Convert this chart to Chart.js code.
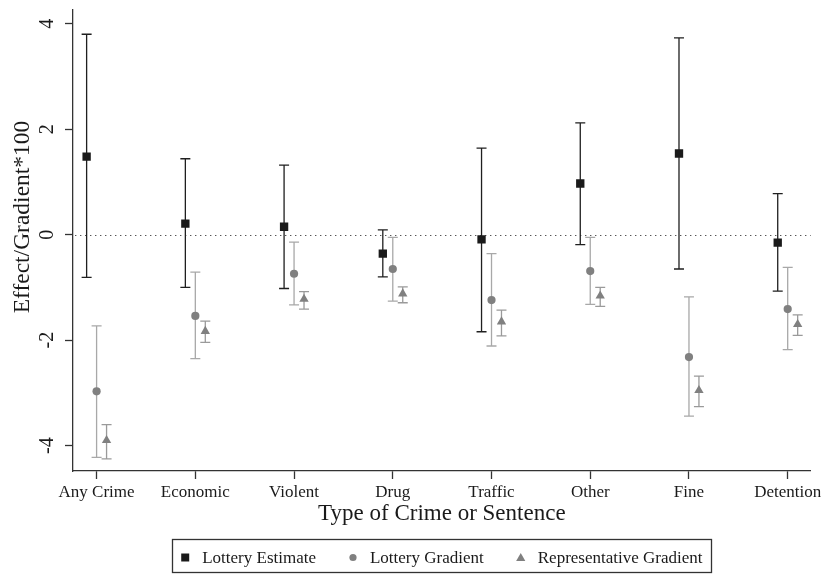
<!DOCTYPE html>
<html>
<head>
<meta charset="utf-8">
<script src="https://cdn.jsdelivr.net/npm/chart.js@4.4.1/dist/chart.umd.min.js"></script>
<style>
  html, body { margin: 0; padding: 0; background: #fff; }
  canvas { display: block; }
</style>
</head>
<body>
<canvas id="grafico" width="822" height="574"></canvas>
<script>
// Datos (efecto/gradiente * 100)
const categorias = ["Any Crime", "Economic", "Violent", "Drug", "Traffic", "Other", "Fine", "Detention"];
const yTicks = [-4, -2, 0, 2, 4];

const lotteryEstimate   = [1.48, 0.21, 0.15, -0.36, -0.09, 0.97, 1.54, -0.15];
const lotteryEstimateLo = [-0.81, -1.00, -1.02, -0.80, -1.84, -0.19, -0.65, -1.07];
const lotteryEstimateHi = [3.80, 1.44, 1.32, 0.09, 1.64, 2.12, 3.73, 0.78];

const lotteryGradient   = [-2.97, -1.54, -0.74, -0.65, -1.24, -0.69, -2.32, -1.41];
const lotteryGradientLo = [-4.22, -2.35, -1.33, -1.26, -2.11, -1.32, -3.44, -2.18];
const lotteryGradientHi = [-1.73, -0.71, -0.14, -0.05, -0.36, -0.05, -1.18, -0.62];

const repGradient   = [-3.90, -1.83, -1.22, -1.12, -1.65, -1.16, -2.95, -1.70];
const repGradientLo = [-4.25, -2.04, -1.41, -1.29, -1.92, -1.36, -3.26, -1.91];
const repGradientHi = [-3.60, -1.64, -1.08, -0.99, -1.43, -1.00, -2.68, -1.52];

const tituloY = "Effect/Gradient*100";
const tituloX = "Type of Crime or Sentence";

const FUENTE = "'Liberation Serif', 'DejaVu Serif', serif";
const TINTA = "#1a1a1a";
const DESPLAZ = 0.101; // separación horizontal entre series

// Construir los puntos de una serie con su intervalo
function puntos(valores, bajos, altos, desplazamiento) {
    return categorias.map((c, i) => ({ x: i + desplazamiento, y: valores[i], lo: bajos[i], hi: altos[i] }));
}

// Dibujar un marcador simple (leyenda)
function marcador(ctx, estilo, x, y, color) {
    ctx.fillStyle = color;
    ctx.beginPath();
    if (estilo === "rect") {
        ctx.rect(x - 4, y - 4, 8, 8);
    } else if (estilo === "circle") {
        ctx.arc(x, y, 3.6, 0, Math.PI * 2);
    } else {
        ctx.moveTo(x, y - 4.5);
        ctx.lineTo(x + 4.6, y + 3.6);
        ctx.lineTo(x - 4.6, y + 3.6);
        ctx.closePath();
    }
    ctx.fill();
}

const barrasError = {
    id: "barrasError",
    beforeDatasetsDraw(chart) {
        const ctx = chart.ctx;
        const x = chart.scales.x, y = chart.scales.y;
        const area = chart.chartArea;
        ctx.save();
        // línea punteada en cero
        const y0 = Math.round(y.getPixelForValue(0)) + 0.5;
        ctx.setLineDash([1.4, 3.6]);
        ctx.strokeStyle = "#555";
        ctx.lineWidth = 1;
        ctx.beginPath();
        ctx.moveTo(area.left + 2, y0);
        ctx.lineTo(area.right, y0);
        ctx.stroke();
        ctx.setLineDash([]);
        // barras de error
        chart.data.datasets.forEach(ds => {
            ctx.strokeStyle = ds.errColor;
            ctx.lineWidth = 1.3;
            ds.data.forEach(p => {
                const px = x.getPixelForValue(p.x);
                const pLo = y.getPixelForValue(p.lo);
                const pHi = y.getPixelForValue(p.hi);
                ctx.beginPath();
                ctx.moveTo(px, pLo); ctx.lineTo(px, pHi);
                ctx.moveTo(px - 5, pLo); ctx.lineTo(px + 5, pLo);
                ctx.moveTo(px - 5, pHi); ctx.lineTo(px + 5, pHi);
                ctx.stroke();
            });
        });
        ctx.restore();
    },
    afterDraw(chart) {
        const ctx = chart.ctx;
        const y = chart.scales.y;
        const area = chart.chartArea;
        ctx.save();
        // etiquetas del eje Y giradas
        ctx.fillStyle = TINTA;
        ctx.font = "20px " + FUENTE;
        ctx.textAlign = "center";
        ctx.textBaseline = "alphabetic";
        yTicks.forEach(v => {
            ctx.save();
            ctx.translate(53, y.getPixelForValue(v));
            ctx.rotate(-Math.PI / 2);
            ctx.fillText(String(v), 0, 0);
            ctx.restore();
        });

        // título del eje Y
        ctx.save();
        ctx.font = "23.5px " + FUENTE;
        ctx.textBaseline = "middle";
        ctx.translate(22.5, 217);
        ctx.rotate(-Math.PI / 2);
        ctx.fillText(tituloY, 0, 0);
        ctx.restore();

        // leyenda con recuadro
        ctx.font = "17px " + FUENTE;
        const items = chart.data.datasets.map(ds => ({
            texto: ds.label, estilo: ds.pointStyle, color: ds.backgroundColor,
            ancho: ctx.measureText(ds.label).width
        }));
        const gapTexto = 13, gapItem = 33, anchoMarca = 8;
        let total = 0;
        items.forEach((it, i) => { total += anchoMarca + gapTexto + it.ancho + (i ? gapItem : 0); });
        const centro = (area.left + area.right) / 2;
        const cajaAncho = total + 18;
        const cajaIzq = centro - cajaAncho / 2;
        const cajaTop = 539.5, cajaBottom = 572.5;
        ctx.strokeStyle = "#333";
        ctx.lineWidth = 1.3;
        ctx.strokeRect(Math.round(cajaIzq) + 0.5, cajaTop, Math.round(cajaAncho), cajaBottom - cajaTop);

        let cx = cajaIzq + 9;
        const base = 563;
        items.forEach(it => {
            marcador(ctx, it.estilo, cx + anchoMarca / 2, 557.5, it.color);
            cx += anchoMarca + gapTexto;
            ctx.fillStyle = TINTA;
            ctx.textAlign = "left";
            ctx.fillText(it.texto, cx, base);
            cx += it.ancho + gapItem;
        });
        ctx.restore();
    }
};

new Chart(document.getElementById("grafico").getContext("2d"), {
    type: "scatter",
    data: {
        datasets: [{
            label: "Lottery Estimate",
            data: puntos(lotteryEstimate, lotteryEstimateLo, lotteryEstimateHi, -DESPLAZ),
            pointStyle: "rect",
            pointRadius: 5.9,
            pointHoverRadius: 5.9,
            borderWidth: 0,
            backgroundColor: TINTA,
            borderColor: TINTA,
            errColor: "#1f1f1f"
        }, {
            label: "Lottery Gradient",
            data: puntos(lotteryGradient, lotteryGradientLo, lotteryGradientHi, 0),
            pointStyle: "circle",
            pointRadius: 4.1,
            pointHoverRadius: 4.1,
            borderWidth: 0,
            backgroundColor: "#808080",
            borderColor: "#808080",
            errColor: "#a8a8a8"
        }, {
            label: "Representative Gradient",
            data: puntos(repGradient, repGradientLo, repGradientHi, DESPLAZ),
            pointStyle: "triangle",
            pointRadius: 5.4,
            pointHoverRadius: 5.4,
            borderWidth: 0,
            backgroundColor: "#808080",
            borderColor: "#808080",
            errColor: "#9a9a9a"
        }]
    },
    options: {
        responsive: false,
        animation: false,
        devicePixelRatio: 1,
        layout: { padding: { top: 10, right: 11.3, bottom: 46.3, left: 0 } },
        plugins: {
            legend: { display: false },
            tooltip: { enabled: false }
        },
        scales: {
            x: {
                type: "linear",
                min: -0.239,
                max: 7.233,
                afterBuildTicks: s => { s.ticks = categorias.map((c, i) => ({ value: i })); },
                afterFit: s => { s.height = 56.7; s.paddingLeft = 0; s.paddingRight = 0; },
                ticks: {
                    callback: v => categorias[v],
                    font: { family: FUENTE, size: 17 },
                    color: TINTA,
                    maxRotation: 0,
                    autoSkip: false,
                    padding: 3
                },
                grid: { drawOnChartArea: false, drawTicks: true, tickLength: 8, color: "#333", tickWidth: 1.3 },
                border: { display: true, color: "#333", width: 1.3 },
                title: { display: true, text: tituloX, font: { family: FUENTE, size: 23 }, color: TINTA, padding: 0 }
            },
            y: {
                min: -4.48,
                max: 4.26,
                afterBuildTicks: s => { s.ticks = yTicks.map(v => ({ value: v })); },
                afterFit: s => { s.width = 73; },
                ticks: { display: false },
                grid: { drawOnChartArea: false, drawTicks: true, tickLength: 8, color: "#333", tickWidth: 1.3 },
                border: { display: true, color: "#333", width: 1.3 },
                title: { display: false }
            }
        }
    },
    plugins: [barrasError]
});
</script>
</body>
</html>
